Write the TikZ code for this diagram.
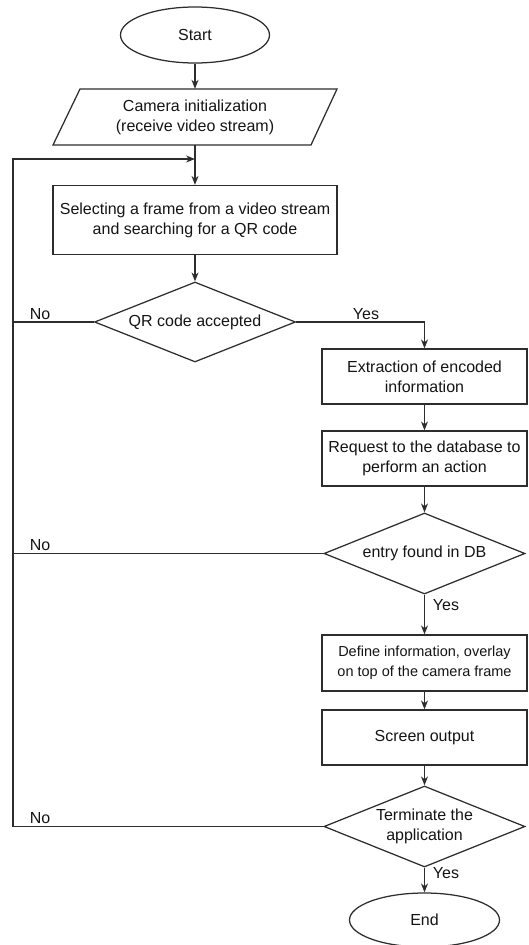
\documentclass[tikz,border=0pt]{standalone}
\usepackage{fontspec}
\setmainfont{Liberation Sans}
\usetikzlibrary{shapes.geometric,arrows.meta,calc}
\definecolor{ln}{RGB}{45,45,45}
\definecolor{tx}{RGB}{20,20,20}
\tikzset{
  base/.style={draw=ln,line width=1.25pt,text=tx,align=center,font=\fontsize{16}{20}\selectfont,inner sep=0pt},
  term/.style={base,ellipse,minimum width=149pt,minimum height=56pt},
  proc/.style={base,rectangle,minimum width=205pt,minimum height=55pt},
  dec/.style={base,diamond,aspect=2.5,minimum width=201pt,minimum height=80pt},
  io/.style={rectangle,text=tx,align=center,font=\fontsize{16}{20}\selectfont,inner sep=0pt,minimum width=230pt,minimum height=56pt},
  arr/.style={draw=ln,line width=1.25pt,-{Stealth[length=9pt,width=7pt]}},
  ln/.style={draw=ln,line width=1.25pt},
  lbl/.style={text=tx,font=\fontsize{16}{20}\selectfont,inner sep=0pt}
}
\begin{document}
\begin{tikzpicture}[x=1pt,y=-1pt]
\useasboundingbox (0,0) rectangle (528,945);
% nodes
\node[term] (start) at (195,35) {Start};
\node[io] (init) at (195,117) {Camera initialization\\(receive video stream)};
\draw[ln] (80,89) -- (337,89) -- (311,145) -- (53,145) -- cycle;
\coordinate (j) at (195,159);
\node[proc,minimum width=284pt,minimum height=69pt] (select) at (195,220) {Selecting a frame from a video stream\\and searching for a QR code};
\node[dec] (qr) at (195,322) {QR code accepted};
\node[proc] (extract) at (424.5,376.5) {Extraction of encoded\\information};
\node[proc] (request) at (424.5,458.5) {Request to the database to\\perform an action};
\node[dec,minimum height=81pt] (entry) at (424.5,553.5) {entry found in DB};
\node[proc,minimum height=56pt] (define) at (424.5,663) {\fontsize{14.5}{19}\selectfont Define information, overlay\\\fontsize{14.5}{19}\selectfont on top of the camera frame};
\node[proc] (screen) at (424.5,737.5) {Screen output};
\node[dec,minimum height=81pt] (termq) at (424.5,826.5) {Terminate the\\application};
\node[term,minimum width=150pt,minimum height=54pt] (end) at (424.5,920) {End};
\coordinate (L) at (13,826.5);
% connectors
\draw[arr] (start) -- (init.north);
\draw[arr] (init.south) -- (select.north);
\draw[arr] (select) -- (qr);
\draw[arr] (qr.east) -| (extract.north);
\draw[arr] (extract) -- (request);
\draw[arr] (request) -- (entry);
\draw[arr] (entry) -- (define);
\draw[arr] (define) -- (screen);
\draw[arr] (screen) -- (termq);
\draw[arr] (termq) -- (end);
\draw[ln] (qr.west) -- (qr.west -| L);
\draw[ln] (entry.west) -- (entry.west -| L);
\draw[arr] (termq.west) -- (L) |- (j);
% labels
\node[lbl] (n1) at (40,314) {No};
\node[lbl] (n2) at (40,545) {No};
\node[lbl] (n3) at (40,818) {No};
\node[lbl] (y1) at (366,314) {Yes};
\node[lbl] (y2) at (446,605) {Yes};
\node[lbl] (y3) at (446,873) {Yes};
\end{tikzpicture}
\end{document}
